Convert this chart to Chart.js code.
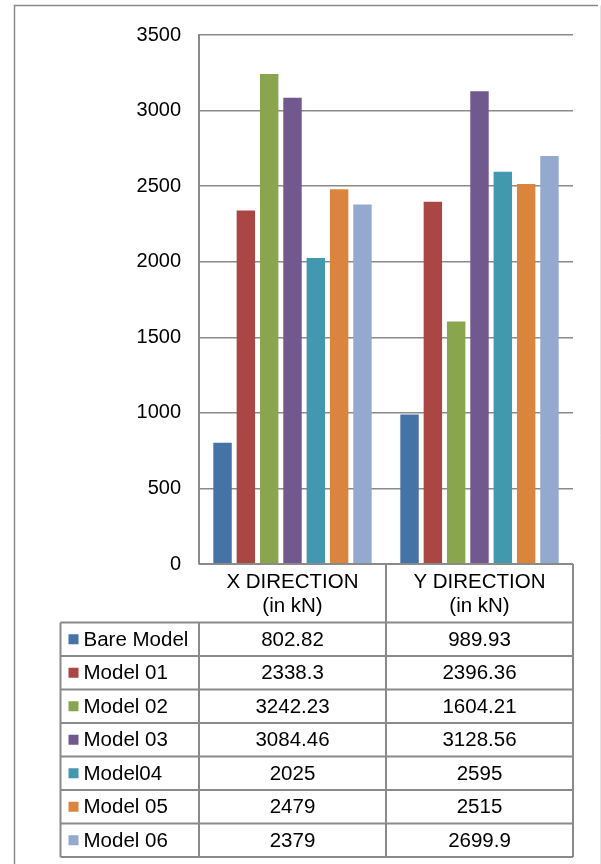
<!DOCTYPE html>
<html>
<head>
<meta charset="utf-8">
<script src="https://cdn.jsdelivr.net/npm/chart.js@4"></script>
<style>
  body { margin: 0; background: #fff; overflow: hidden; }
  #wrap { width: 601px; height: 864px; }
</style>
</head>
<body>
<div id="wrap"><canvas id="base-shear"></canvas></div>
<script>
const categories = [['X DIRECTION', '(in kN)'], ['Y DIRECTION', '(in kN)']];
const seriesNames = ['Bare Model', 'Model 01', 'Model 02', 'Model 03', 'Model04', 'Model 05', 'Model 06'];
const bareModel = [802.82, 989.93];
const model01 = [2338.3, 2396.36];
const model02 = [3242.23, 1604.21];
const model03 = [3084.46, 3128.56];
const model04 = [2025, 2595];
const model05 = [2479, 2515];
const model06 = [2379, 2699.9];
const yMax = 3500;
const yStep = 500;

const seriesValues = [bareModel, model01, model02, model03, model04, model05, model06];
const seriesColors = ['#4572a7', '#aa4643', '#89a54e', '#71588f', '#4198af', '#db843d', '#93a9cf'];

const FAMILY = '"Liberation Sans", Arial, sans-serif';
const FONT = '20.5px ' + FAMILY;
const LINE = '#8a8a8a';

// outer frame of the chart object
const framePlugin = {
  id: 'frame',
  beforeDraw(chart) {
    const c = chart.ctx;
    c.save();
    c.strokeStyle = LINE;
    c.lineWidth = 1.5;
    c.beginPath();
    c.moveTo(14.5, 870);
    c.lineTo(14.5, 5.5);
    c.lineTo(598, 5.5);
    c.stroke();
    c.strokeStyle = '#e2e2e2';
    c.lineWidth = 1;
    c.beginPath();
    c.moveTo(600.5, 5.5);
    c.lineTo(600.5, 870);
    c.stroke();
    c.restore();
  }
};

// data table under the plot: header row with categories, one row per series
const tablePlugin = {
  id: 'dataTable',
  afterDraw(chart) {
    const c = chart.ctx;
    const xs = chart.scales.x;
    const top = chart.chartArea.bottom;
    const headerH = 58.5;
    const rowH = 33.5;
    const labelLeft = 60.5;
    const catW = xs.width / categories.length;
    const rowsTop = top + headerH;
    const bottom = rowsTop + rowH * seriesNames.length;

    c.save();
    c.strokeStyle = LINE;
    c.lineWidth = 2;
    c.beginPath();
    // plot bottom / header top
    c.moveTo(xs.left, top); c.lineTo(xs.right, top);
    // row lines
    for (let r = 0; r <= seriesNames.length; r++) {
      const y = rowsTop + r * rowH;
      c.moveTo(labelLeft, y); c.lineTo(xs.right, y);
    }
    // vertical lines
    c.moveTo(labelLeft, rowsTop); c.lineTo(labelLeft, bottom);
    for (let i = 0; i <= categories.length; i++) {
      const x = xs.left + i * catW;
      c.moveTo(x, i === 0 ? rowsTop : top); c.lineTo(x, bottom);
    }
    c.stroke();

    c.font = FONT;
    c.fillStyle = '#000';
    c.textAlign = 'center';
    c.textBaseline = 'middle';
    categories.forEach((lines, i) => {
      const cx = xs.left + (i + 0.5) * catW;
      lines.forEach((t, k) => c.fillText(t, cx, top + 18.5 + k * 23.5));
    });

    chart.data.datasets.forEach((ds, r) => {
      const cy = rowsTop + (r + 0.5) * rowH;
      c.fillStyle = ds.backgroundColor;
      c.fillRect(labelLeft + 8, cy - 5, 10, 10);
      c.fillStyle = '#000';
      c.textAlign = 'left';
      c.fillText(ds.label, labelLeft + 23, cy + 1);
      c.textAlign = 'center';
      ds.data.forEach((v, i) => {
        c.fillText(String(v), xs.left + (i + 0.5) * catW, cy + 1);
      });
    });
    c.restore();
  }
};

const ctx = document.getElementById('base-shear').getContext('2d');

const chartData = {
  labels: categories,
  datasets: seriesNames.map((name, i) => ({
    label: name,
    data: seriesValues[i],
    backgroundColor: seriesColors[i],
    borderWidth: 0,
    categoryPercentage: 0.873,
    barPercentage: 0.79
  }))
};

const config = {
  type: 'bar',
  data: chartData,
  options: {
    responsive: true,
    maintainAspectRatio: false,
    animation: false,
    layout: { padding: { top: 35, right: 28, bottom: 0, left: 0 } },
    scales: {
      x: {
        grid: { display: false },
        border: { display: false },
        ticks: { display: false },
        afterFit(scale) { scale.height = 300; }
      },
      y: {
        min: 0,
        max: yMax,
        ticks: {
          stepSize: yStep,
          padding: 18,
          color: '#000',
          font: { family: FAMILY, size: 20 },
          callback: (v) => String(v)
        },
        grid: { color: LINE, lineWidth: 1.5, drawTicks: false },
        border: { display: true, color: LINE, width: 2 },
        afterFit(scale) { scale.width = 199; }
      }
    },
    plugins: {
      legend: { display: false },
      tooltip: { enabled: false }
    }
  },
  plugins: [framePlugin, tablePlugin]
};

const shearChart = new Chart(ctx, config);
</script>
</body>
</html>
